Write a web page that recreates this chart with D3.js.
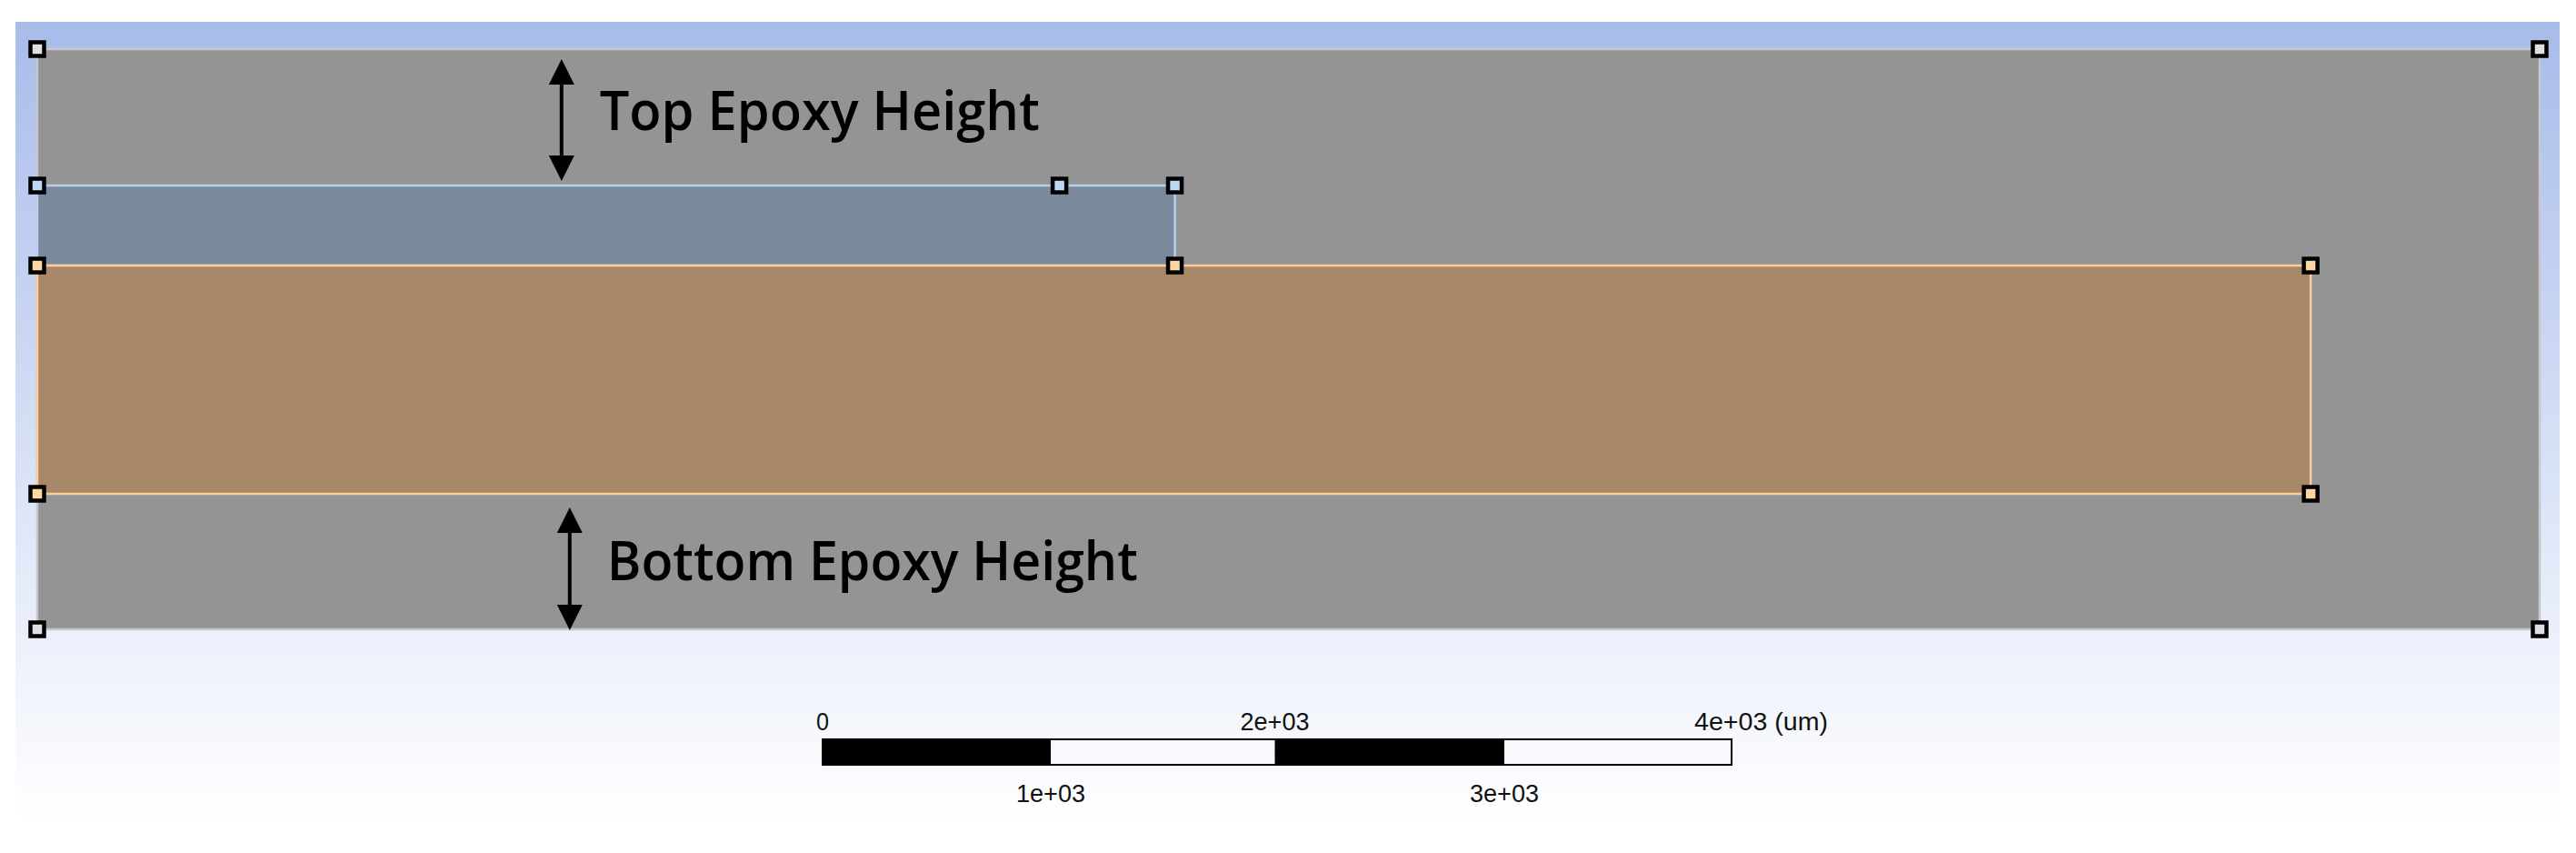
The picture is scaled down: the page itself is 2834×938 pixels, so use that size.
<!DOCTYPE html>
<html>
<head>
<meta charset="utf-8">
<script src="https://cdn.jsdelivr.net/npm/d3@7"></script>
<style>
  html, body { margin: 0; padding: 0; background: #fff; }
  svg { display: block; }
</style>
</head>
<body>
<div id="chart"></div>
<script>
// model dimensions in um, origin at the top left corner of the epoxy block
const epoxy_size = [11016, 2552]
const regions = ['Epoxy', 'Top layer', 'Bottom layer']
const region_x = [[0, 11016], [0, 5008], [0, 10008]]
const region_y = [[0, 2552], [600, 952], [952, 1956]]
const region_fill = ['#949494', '#7a899c', '#a88869']
const region_stroke = ['#c6c8ce', '#b5d0ee', '#fbcf9b']

// vertices: x, y, region index for the colour
const vertex_x = [0, 11016, 0, 11016, 0, 4500, 5008, 5008, 0, 10008, 0, 10008]
const vertex_y = [0, 0, 2552, 2552, 600, 600, 600, 952, 952, 952, 1956, 1956]
const vertex_fill = ['#dfe0e4', '#dfe0e4', '#dfe0e4', '#dfe0e4', '#bcd9f5', '#bcd9f5', '#bcd9f5', '#fdd6a2', '#fdd6a2', '#fdd6a2', '#fdd6a2', '#fdd6a2']

// dimension annotations
const dim_labels = ['Top Epoxy Height', 'Bottom Epoxy Height']
const dim_x = [2308, 2344]
const dim_y = [[44, 580], [2016, 2556]]
const dim_label_x = [2476, 2508]
const dim_label_y = [356, 2336]
const dim_label_len = [484, 584]

// scale bar, edges
const bar_edges = [0, 1004, 1990, 3000, 4000]
const bar_labels = ['0', '1e+03', '2e+03', '3e+03', '4e+03']
const bar_unit = '(um)'

const width = 2834, height = 938

const x = d3.scaleLinear().domain([0, epoxy_size[0]]).range([41, 2794])
const y = d3.scaleLinear().domain([0, epoxy_size[1]]).range([54, 692])
const bar_x = d3.scaleLinear().domain([0, 4000]).range([905, 1905])

let svg = d3.select('#chart').append('svg').attr('width', width).attr('height', height)

let grad = svg.append('defs').append('linearGradient')
    .attr('id', 'bg').attr('x1', 0).attr('x2', 0).attr('y1', 0).attr('y2', 1)
grad.append('stop').attr('offset', 0).attr('stop-color', '#a8bcea')
grad.append('stop').attr('offset', 1).attr('stop-color', '#ffffff')

svg.append('rect')
    .attr('x', 17).attr('y', 24)
    .attr('width', 2799).attr('height', 878)
    .attr('fill', 'url(#bg)')

// regions
svg.append('g').selectAll('rect')
    .data(regions)
    .enter()
    .append('rect')
    .attr('x', (d, i) => x(region_x[i][0]))
    .attr('y', (d, i) => y(region_y[i][0]))
    .attr('width', (d, i) => x(region_x[i][1]) - x(region_x[i][0]))
    .attr('height', (d, i) => y(region_y[i][1]) - y(region_y[i][0]))
    .attr('fill', (d, i) => region_fill[i])
    .attr('stroke', (d, i) => region_stroke[i])
    .attr('stroke-width', 2.5)

// vertex handles
svg.append('g').selectAll('rect')
    .data(vertex_x)
    .enter()
    .append('rect')
    .attr('x', d => x(d) - 7.5)
    .attr('y', (d, i) => y(vertex_y[i]) - 7.5)
    .attr('width', 15)
    .attr('height', 15)
    .attr('fill', (d, i) => vertex_fill[i])
    .attr('stroke', '#000')
    .attr('stroke-width', 4.5)

// double arrows
const head = 28
let dims = svg.append('g')
dim_labels.forEach((label, i) => {
    const ax = x(dim_x[i]), y0 = y(dim_y[i][0]), y1 = y(dim_y[i][1])
    dims.append('line')
        .attr('x1', ax).attr('x2', ax)
        .attr('y1', y0 + head).attr('y2', y1 - head)
        .attr('stroke', '#000').attr('stroke-width', 4)
    dims.append('path')
        .attr('d', d3.line()([[ax, y0], [ax + head / 2, y0 + head], [ax - head / 2, y0 + head]]) + 'Z')
    dims.append('path')
        .attr('d', d3.line()([[ax, y1], [ax + head / 2, y1 - head], [ax - head / 2, y1 - head]]) + 'Z')
    dims.append('text')
        .attr('x', x(dim_label_x[i]))
        .attr('y', y(dim_label_y[i]))
        .attr('font-family', '"Open Sans", sans-serif')
        .attr('font-size', 60)
        .attr('font-weight', 600)
        .attr('textLength', dim_label_len[i])
        .attr('lengthAdjust', 'spacingAndGlyphs')
        .attr('fill', '#000')
        .text(label)
})

// scale bar
let bar = svg.append('g')
bar.selectAll('rect')
    .data(d3.pairs(bar_edges))
    .enter()
    .append('rect')
    .attr('x', d => bar_x(d[0]))
    .attr('y', 814)
    .attr('width', d => bar_x(d[1]) - bar_x(d[0]))
    .attr('height', 27)
    .attr('fill', (d, i) => i % 2 ? 'none' : '#000')
bar.append('rect')
    .attr('x', bar_x(0)).attr('y', 813)
    .attr('width', bar_x(4000) - bar_x(0)).attr('height', 28)
    .attr('fill', 'none').attr('stroke', '#000').attr('stroke-width', 2)

bar.selectAll('text')
    .data(bar_edges)
    .enter()
    .append('text')
    .attr('x', d => bar_x(d))
    .attr('y', (d, i) => i % 2 ? 882 : 803)
    .attr('text-anchor', (d, i) => i == 4 ? 'start' : 'middle')
    .attr('dx', (d, i) => i == 4 ? -41 : 0)
    .attr('font-family', '"Liberation Sans", sans-serif')
    .attr('font-size', 27)
    .attr('fill', '#111')
    .attr('textLength', (d, i) => i == 0 ? 14 : i == 4 ? 147 : 76)
    .attr('lengthAdjust', 'spacingAndGlyphs')
    .text((d, i) => i == 4 ? bar_labels[i] + ' ' + bar_unit : bar_labels[i])
</script>
</body>
</html>
